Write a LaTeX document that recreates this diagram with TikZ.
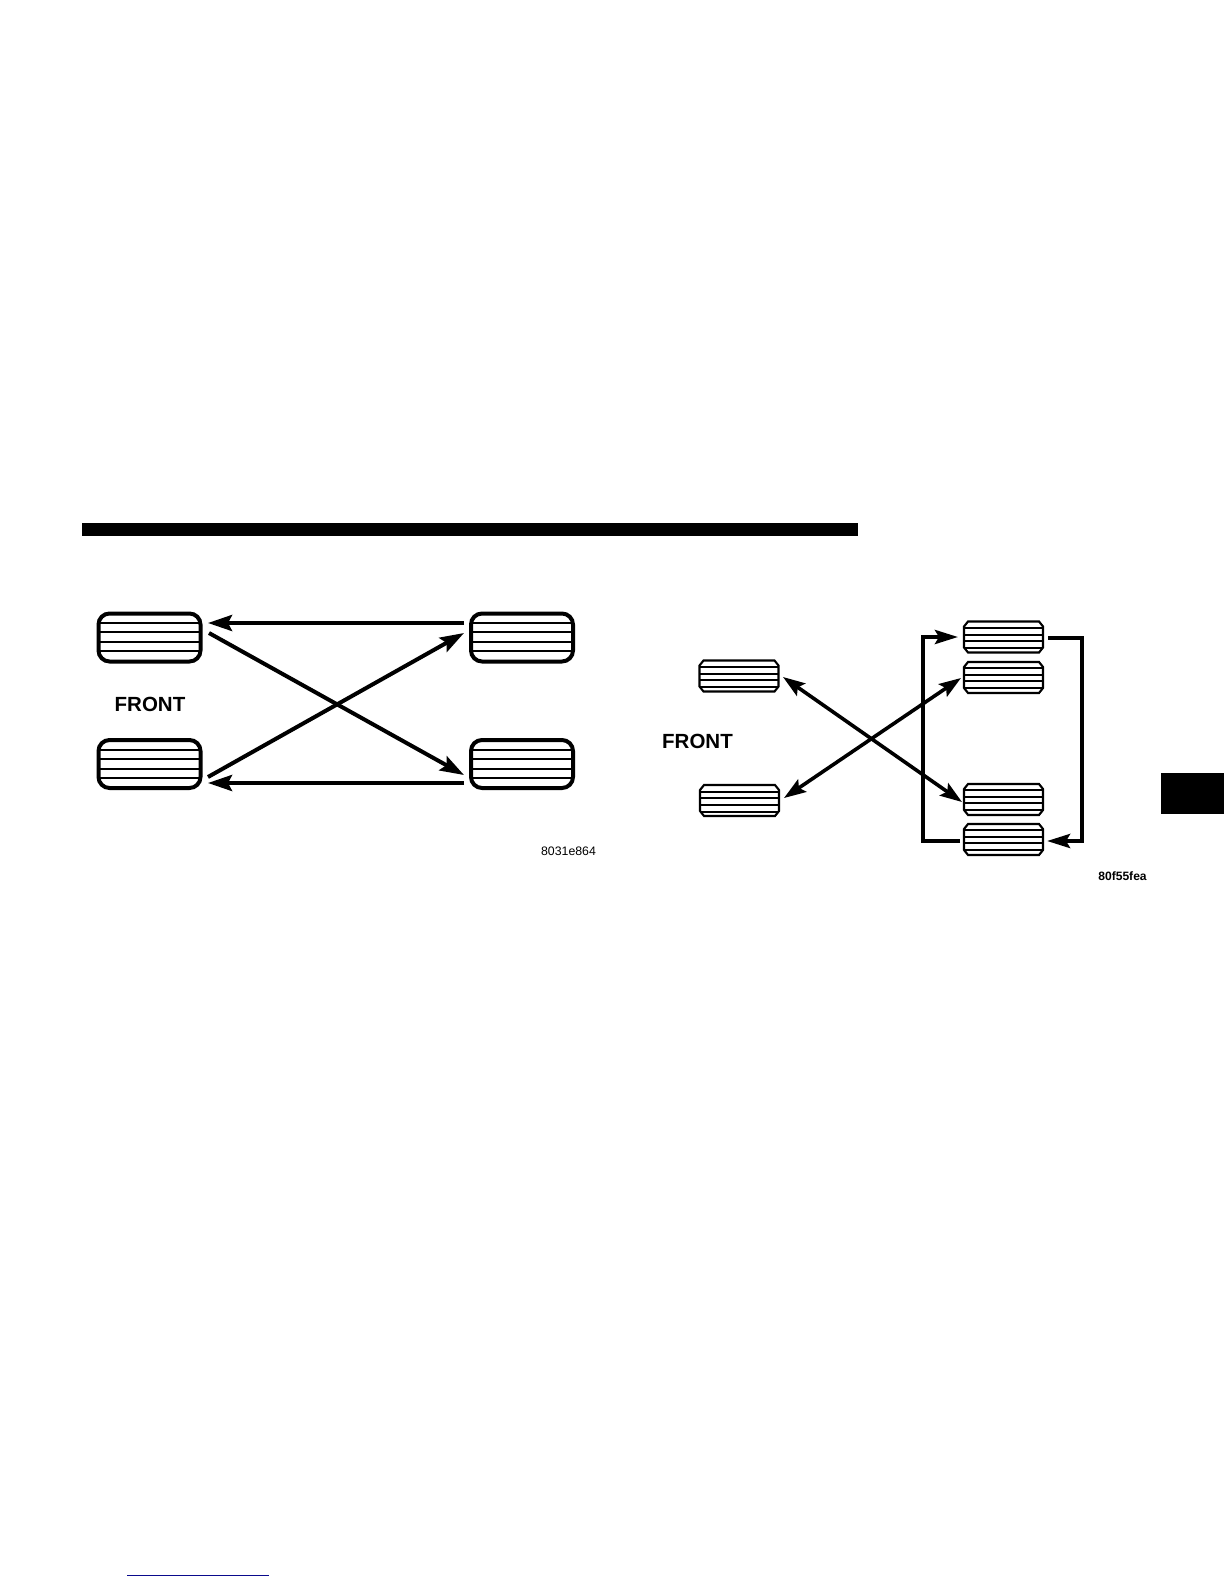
\documentclass[tikz,border=0pt]{standalone}
\usepackage{fontspec}
\setmainfont{Liberation Sans}
\usetikzlibrary{arrows.meta,calc}
\definecolor{linkblue}{RGB}{10,10,140}
\tikzset{
  x=1pt,y=-1pt,
  bigtire/.style={draw=black,line width=4pt,rounded corners=11pt,rectangle,inner sep=0pt,outer sep=0pt,minimum width=102pt,minimum height=48pt},
  duallytire/.style={rectangle,inner sep=0pt,outer sep=0pt,minimum width=79pt,minimum height=31pt},
  tireoutline/.style={line width=2.1pt,line join=miter},
  bigstripe/.style={line width=1.7pt},
  smallstripe/.style={line width=1.4pt},
  label/.style={font=\bfseries\fontsize{20.5}{22}\selectfont,inner sep=0pt},
  codelabel/.style={font=\fontsize{12.3}{14}\selectfont,inner sep=0pt},
  codebold/.style={font=\bfseries\fontsize{12.1}{14}\selectfont,inner sep=0pt},
  bigarrow/.style={line width=4pt,-{Stealth[length=24pt,width=16pt,inset=4pt]}},
  smallarrow/.style={line width=3.6pt,{Stealth[length=22pt,width=15pt,inset=4pt]}-{Stealth[length=22pt,width=15pt,inset=4pt]}},
  bracket/.style={line width=4pt,miter limit=10,-{Stealth[length=23pt,width=14pt,inset=4pt]}},
}
\begin{document}
\begin{tikzpicture}
\useasboundingbox (0,0) rectangle (1224,1584);
% page furniture
\fill[black] (82,523) rectangle (858,536);
\fill[black] (1161,773) rectangle (1224,814);
\coordinate (ulA) at (127,1575);
\coordinate (ulB) at (269,1575);
\draw[linkblue,line width=1pt] (ulA) -- (ulB);

% left diagram
\foreach \n/\cx/\cy in {lf/149.5/637.5,lr/149.5/764,rf/522/637.5,rr/522/764}{
  \node[bigtire] (\n) at (\cx,\cy) {};
}
\foreach \n in {lf,rf}{\foreach \yy in {623,632,642,651}{\draw[bigstripe] (\n.west |- 0,\yy) -- (\n.east |- 0,\yy);}}
\foreach \n in {lr,rr}{\foreach \yy in {750,759,769,778}{\draw[bigstripe] (\n.west |- 0,\yy) -- (\n.east |- 0,\yy);}}
\node[label] (front1) at (150,704) {FRONT};
\node[codelabel] (code1) at (568.5,851) {8031e864};
\coordinate (a1s) at (464,623);
\coordinate (a1e) at (208,623);
\coordinate (a2s) at (464,783);
\coordinate (a2e) at (208,783);
\coordinate (a3s) at (209,633);
\coordinate (a3e) at (464,775);
\coordinate (a4s) at (208,777);
\coordinate (a4e) at (464,633);
\draw[bigarrow] (a1s) -- (a1e);
\draw[bigarrow] (a2s) -- (a2e);
\draw[bigarrow] (a3s) -- (a3e);
\draw[bigarrow] (a4s) -- (a4e);

% right diagram
\foreach \n/\cx/\cy/\sa/\sb/\sc/\sd in {
  ta/1003.5/637/628/635/641/648,
  tb/1003.5/677.5/668/675/681/688,
  tc/1003.5/799.5/790/797/803/810,
  td/1003.5/839.5/830/837/843/850,
  te/739/676/667/674/680/687,
  tf/739.5/800.5/792/798/805/812}{
  \node[duallytire] (\n) at (\cx,\cy) {};
  \foreach \yy in {\sa,\sb,\sc,\sd}{\draw[smallstripe] (\n.west |- 0,\yy) -- (\n.east |- 0,\yy);}
  \draw[tireoutline]
    ($(\n.north west)+(4,0)$) -- ($(\n.north east)+(-4,0)$) --
    ($(\n.north east)+(0,5)$) -- ($(\n.south east)+(0,-5)$) --
    ($(\n.south east)+(-4,0)$) -- ($(\n.south west)+(4,0)$) --
    ($(\n.south west)+(0,-5)$) -- ($(\n.north west)+(0,5)$) -- cycle;
}
\node[label] (front2) at (697.5,741.5) {FRONT};
\node[codebold] (code2) at (1122.5,876) {80f55fea};
\coordinate (b1a) at (783,677);
\coordinate (b1b) at (962,802);
\coordinate (b2a) at (784,798);
\coordinate (b2b) at (961,678);
\draw[smallarrow] (b1a) -- (b1b);
\draw[smallarrow] (b2a) -- (b2b);
\coordinate (c1s) at (960,840.5);
\coordinate (c1m) at (923,840.5);
\coordinate (c1n) at (923,637);
\coordinate (c1e) at (958,637);
\coordinate (c2s) at (1048,638);
\coordinate (c2m) at (1082,638);
\coordinate (c2n) at (1082,841);
\coordinate (c2e) at (1047,841);
\draw[bracket] (c1s) -- (c1m) -- (c1n) -- (c1e);
\draw[bracket] (c2s) -- (c2m) -- (c2n) -- (c2e);
\end{tikzpicture}
\end{document}
